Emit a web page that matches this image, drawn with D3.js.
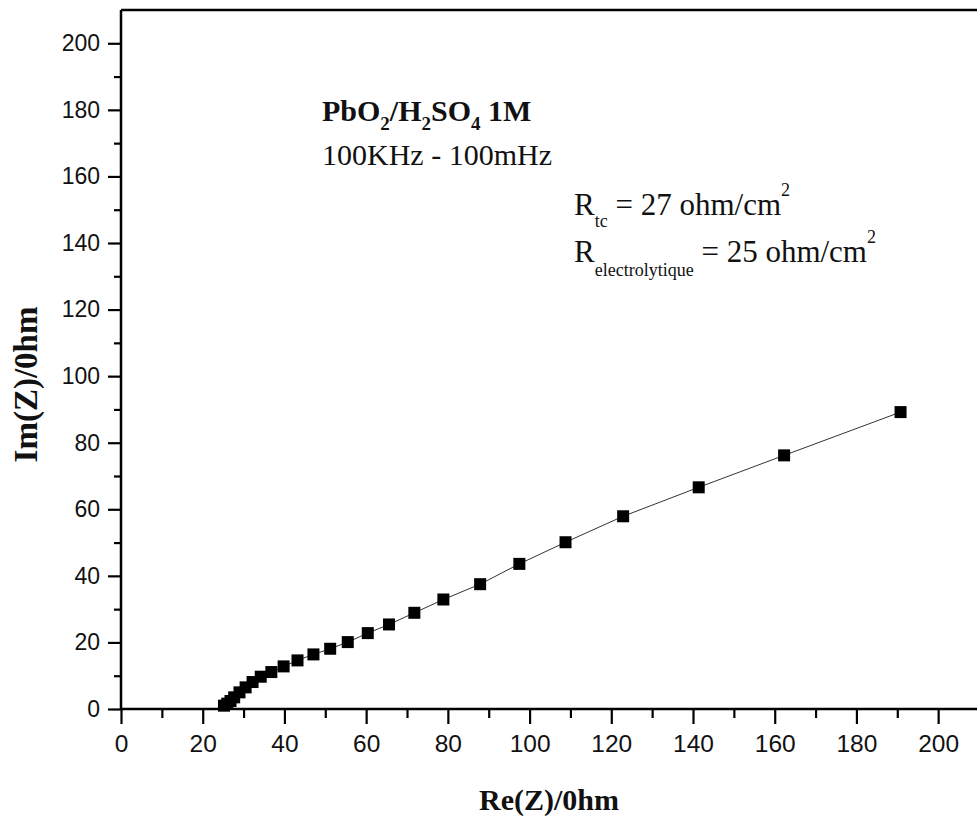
<!DOCTYPE html>
<html>
<head>
<meta charset="utf-8">
<script src="https://cdn.jsdelivr.net/npm/d3@7"></script>
<style>
  html, body { margin: 0; padding: 0; background: #fff; }
  svg { display: block; }
</style>
</head>
<body>
<script>
// Nyquist data: Re(Z) and -Im(Z) in ohm, high to low frequency
const reZ = [25.2, 26.0, 26.8, 27.7, 29.0, 30.5, 32.2, 34.2, 36.8, 39.8,
             43.2, 47.1, 51.2, 55.5, 60.4, 65.6, 71.8, 78.9, 87.9, 97.5,
             108.8, 122.9, 141.4, 162.3, 190.8];
const imZ = [1.0, 1.6, 2.4, 3.5, 5.0, 6.5, 8.1, 9.7, 11.1, 12.8,
             14.6, 16.4, 18.1, 20.1, 22.8, 25.4, 28.9, 32.9, 37.5, 43.6,
             50.1, 57.9, 66.6, 76.2, 89.2];
const xMajorTicks = [0, 20, 40, 60, 80, 100, 120, 140, 160, 180, 200];
const yMajorTicks = [0, 20, 40, 60, 80, 100, 120, 140, 160, 180, 200];
const xMinorTicks = [10, 30, 50, 70, 90, 110, 130, 150, 170, 190, 210];
const yMinorTicks = [10, 30, 50, 70, 90, 110, 130, 150, 170, 190];

const W = 977, H = 821;
const mLeft = 121, mRight = 979, mTop = 10, mBottom = 709;

const svg = d3.select("body").append("svg")
  .attr("width", W).attr("height", H);

const x = d3.scaleLinear().domain([0, 210]).range([mLeft, mRight]);
const y = d3.scaleLinear().domain([0, 210]).range([mBottom, mTop]);

const serif = "'Liberation Serif', 'Times New Roman', serif";
const sans = "'Liberation Sans', Arial, sans-serif";

// connecting line
const pts = reZ.map((r, i) => [r, imZ[i]]);
svg.append("path")
  .datum(pts)
  .attr("fill", "none")
  .attr("stroke", "#333")
  .attr("stroke-width", 1)
  .attr("d", d3.line().x(d => x(d[0])).y(d => y(d[1])));

// square markers
const ms = 12;
svg.append("g").selectAll("rect")
  .data(pts)
  .join("rect")
  .attr("x", d => x(d[0]) - ms / 2)
  .attr("y", d => y(d[1]) - ms / 2)
  .attr("width", ms).attr("height", ms)
  .attr("fill", "#000");

// axes
const xAxis = svg.append("g").attr("transform", `translate(0,${mBottom})`)
  .call(d3.axisBottom(x).tickValues(xMajorTicks).tickSize(15).tickPadding(11)
        .tickFormat(d3.format("d")));
const xMinor = svg.append("g").attr("transform", `translate(0,${mBottom})`)
  .call(d3.axisBottom(x).tickValues(xMinorTicks).tickSize(9).tickFormat(""));
const yAxis = svg.append("g").attr("transform", `translate(${mLeft},0)`)
  .call(d3.axisLeft(y).tickValues(yMajorTicks).tickSize(13).tickPadding(8)
        .tickFormat(d3.format("d")));
const yMinor = svg.append("g").attr("transform", `translate(${mLeft},0)`)
  .call(d3.axisLeft(y).tickValues(yMinorTicks).tickSize(7).tickFormat(""));

[xAxis, xMinor, yAxis, yMinor].forEach(g => {
  g.select(".domain").remove();
  g.selectAll(".tick line").attr("stroke", "#000").attr("stroke-width", 2.2);
});
xAxis.selectAll(".tick text").attr("font-family", sans).attr("font-size", 24.5).attr("fill", "#111");
yAxis.selectAll(".tick text").attr("font-family", sans).attr("font-size", 23).attr("fill", "#111");

// frame lines
svg.append("line").attr("x1", mLeft).attr("x2", mRight + 5).attr("y1", mBottom).attr("y2", mBottom)
  .attr("stroke", "#000").attr("stroke-width", 2.5);
svg.append("line").attr("x1", mLeft).attr("x2", mLeft).attr("y1", mTop).attr("y2", mBottom)
  .attr("stroke", "#000").attr("stroke-width", 2.5);
svg.append("line").attr("x1", mLeft).attr("x2", mRight + 5).attr("y1", mTop).attr("y2", mTop)
  .attr("stroke", "#000").attr("stroke-width", 2.5);

// axis titles
svg.append("text")
  .attr("x", (x(0) + x(210)) / 2 - 1).attr("y", 810)
  .attr("text-anchor", "middle")
  .attr("font-family", serif).attr("font-weight", "bold").attr("font-size", 30)
  .attr("fill", "#111")
  .text("Re(Z)/0hm");
svg.append("text")
  .attr("transform", `translate(37,${(mTop + mBottom) / 2 + 25}) rotate(-90)`)
  .attr("text-anchor", "middle")
  .attr("font-family", serif).attr("font-weight", "bold").attr("font-size", 33)
  .attr("fill", "#111")
  .text("Im(Z)/0hm");

// annotations
function richText(xp, yp, parts, opts) {
  const t = svg.append("text").attr("x", xp).attr("y", yp)
    .attr("font-family", serif).attr("fill", "#111")
    .attr("font-weight", opts.bold ? "bold" : "normal");
  let shift = 0;
  parts.forEach(p => {
    const target = p.dy || 0;
    t.append("tspan")
      .attr("dy", target - shift)
      .attr("font-size", p.size)
      .text(p.text);
    shift = target;
  });
  return t;
}

richText(322, 121, [
  { text: "PbO", size: 30 },
  { text: "2", size: 19, dy: 9 },
  { text: "/H", size: 30 },
  { text: "2", size: 19, dy: 9 },
  { text: "SO", size: 30 },
  { text: "4", size: 19, dy: 9 },
  { text: " 1M", size: 30 }
], { bold: true });

richText(322, 165, [{ text: "100KHz - 100mHz", size: 30 }], {});

richText(574, 215, [
  { text: "R", size: 31 },
  { text: "tc", size: 18, dy: 12 },
  { text: " = 27 ohm/cm", size: 31 },
  { text: "2", size: 18, dy: -19 }
], {});

richText(574, 262, [
  { text: "R", size: 31 },
  { text: "electrolytique", size: 18, dy: 14 },
  { text: " = 25 ohm/cm", size: 31 },
  { text: "2", size: 18, dy: -19 }
], {});
</script>
</body>
</html>
